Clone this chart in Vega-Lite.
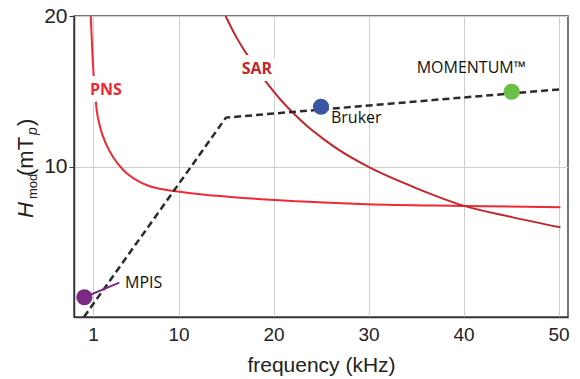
{
  "$schema": "https://vega.github.io/schema/vega-lite/v6.json",
  "width": 494,
  "height": 301,
  "autosize": {"type": "none"},
  "padding": {"left": 74, "top": 16, "right": 12, "bottom": 62},
  "background": "white",
  "config": {
    "view": {"stroke": "#4a4a4a", "strokeWidth": 1.5},
    "font": "Liberation Sans"
  },
  "datasets": {
    "curves": [
      {"series": "PNS", "f": 0.76, "H": 20},
      {"series": "PNS", "f": 0.97, "H": 17.1},
      {"series": "PNS", "f": 1.39, "H": 13.75},
      {"series": "PNS", "f": 1.74, "H": 12.64},
      {"series": "PNS", "f": 2.44, "H": 11.4},
      {"series": "PNS", "f": 3.14, "H": 10.6},
      {"series": "PNS", "f": 4.26, "H": 9.72},
      {"series": "PNS", "f": 6.0, "H": 8.95},
      {"series": "PNS", "f": 7.77, "H": 8.55},
      {"series": "PNS", "f": 9.53, "H": 8.37},
      {"series": "PNS", "f": 13.0, "H": 8.1},
      {"series": "PNS", "f": 16.5, "H": 7.93},
      {"series": "PNS", "f": 20.05, "H": 7.77},
      {"series": "PNS", "f": 25.3, "H": 7.6},
      {"series": "PNS", "f": 29.8, "H": 7.49},
      {"series": "PNS", "f": 40.0, "H": 7.38},
      {"series": "PNS", "f": 50.2, "H": 7.29},
      {"series": "SAR", "f": 14.95, "H": 20},
      {"series": "SAR", "f": 16.1, "H": 18.58},
      {"series": "SAR", "f": 17.2, "H": 17.45},
      {"series": "SAR", "f": 19.3, "H": 15.55},
      {"series": "SAR", "f": 20.7, "H": 14.47},
      {"series": "SAR", "f": 21.84, "H": 13.7},
      {"series": "SAR", "f": 23.5, "H": 12.7},
      {"series": "SAR", "f": 25.2, "H": 11.85},
      {"series": "SAR", "f": 27.0, "H": 11.05},
      {"series": "SAR", "f": 30.0, "H": 9.97},
      {"series": "SAR", "f": 35.07, "H": 8.55},
      {"series": "SAR", "f": 40.0, "H": 7.4},
      {"series": "SAR", "f": 45.2, "H": 6.62},
      {"series": "SAR", "f": 50.2, "H": 5.96}
    ],
    "scan": [
      {"series": "scan", "f": 0.05, "H": 0},
      {"series": "scan", "f": 15.0, "H": 13.25},
      {"series": "scan", "f": 50.2, "H": 15.13}
    ],
    "points": [
      {"name": "MPIS", "f": 0.09, "H": 1.31},
      {"name": "Bruker", "f": 25.0, "H": 13.97},
      {"name": "MOMENTUM", "f": 45.07, "H": 14.97}
    ],
    "leader": [
      {"name": "MPIS", "f": 0.09, "H": 1.31},
      {"name": "MPIS", "f": 3.77, "H": 2.28}
    ],
    "boldLabels": [
      {"label": "PNS", "f": 0.68, "H": 15.08},
      {"label": "SAR", "f": 16.65, "H": 16.48}
    ],
    "plainLabels": [
      {"label": "MPIS", "f": 4.37, "H": 2.24},
      {"label": "Bruker", "f": 26.05, "H": 13.2},
      {"label": "MOMENTUM™", "f": 35.07, "H": 16.52}
    ]
  },
  "layer": [
    {
      "data": {"name": "curves"},
      "mark": {"type": "line", "interpolate": "monotone", "strokeWidth": 2},
      "encoding": {
        "x": {
          "field": "f", "type": "quantitative",
          "scale": {"domain": [-1, 51], "nice": false, "zero": false},
          "axis": {
            "values": [1, 10, 20, 30, 40, 50],
            "title": "frequency (kHz)",
            "titleFont": "Liberation Sans", "titleFontSize": 21, "titleFontWeight": "normal",
            "titleColor": "#222", "titlePadding": 10,
            "labelFont": "Liberation Sans", "labelFontSize": 19, "labelColor": "#222",
            "labelPadding": 8, "labelFlush": false,
            "ticks": false, "domain": true, "domainColor": "#333", "domainWidth": 1.5,
            "grid": true, "gridColor": "#cfcfcf", "gridWidth": 1
          }
        },
        "y": {
          "field": "H", "type": "quantitative",
          "scale": {"domain": [0, 20], "nice": false},
          "axis": {
            "values": [10, 20],
            "title": null,
            "labelFont": "Liberation Sans", "labelFontSize": 21, "labelColor": "#222",
            "labelPadding": 2, "tickSize": 5, "tickColor": "#333",
            "domain": true, "domainColor": "#333", "domainWidth": 1.5,
            "grid": true, "gridColor": "#cfcfcf", "gridWidth": 1
          }
        },
        "color": {
          "field": "series", "type": "nominal", "legend": null,
          "scale": {"domain": ["PNS", "SAR", "MPIS", "Bruker", "MOMENTUM"], "range": ["#ee2a33", "#c1272d", "#7b2a84", "#3a55a4", "#6bbf46"]}
        },
        "detail": {"field": "series"}
      }
    },
    {
      "data": {"name": "scan"},
      "mark": {"type": "line", "color": "#2b2b2b", "strokeWidth": 2.5, "strokeDash": [7, 4]},
      "encoding": {
        "x": {"field": "f", "type": "quantitative"},
        "y": {"field": "H", "type": "quantitative"}
      }
    },
    {
      "data": {"name": "leader"},
      "mark": {"type": "line", "color": "#7b2a84", "strokeWidth": 2},
      "encoding": {
        "x": {"field": "f", "type": "quantitative"},
        "y": {"field": "H", "type": "quantitative"}
      }
    },
    {
      "data": {"name": "points"},
      "mark": {"type": "circle", "size": 260, "opacity": 1},
      "encoding": {
        "x": {"field": "f", "type": "quantitative"},
        "y": {"field": "H", "type": "quantitative"},
        "color": {
          "field": "name", "type": "nominal", "legend": null,
          "scale": {"domain": ["PNS", "SAR", "MPIS", "Bruker", "MOMENTUM"], "range": ["#ee2a33", "#c1272d", "#7b2a84", "#3a55a4", "#6bbf46"]}
        }
      }
    },
    {
      "data": {"name": "boldLabels"},
      "mark": {"type": "text", "align": "left", "baseline": "middle", "font": "Open Sans", "fontSize": 16, "fontWeight": "bold", "fill": "white", "stroke": "white", "strokeWidth": 14, "strokeJoin": "round"},
      "encoding": {
        "x": {"field": "f", "type": "quantitative"},
        "y": {"field": "H", "type": "quantitative"},
        "text": {"field": "label"}
      }
    },
    {
      "data": {"name": "boldLabels"},
      "mark": {"type": "text", "align": "left", "baseline": "middle", "font": "Open Sans", "fontSize": 16, "fontWeight": "bold"},
      "encoding": {
        "x": {"field": "f", "type": "quantitative"},
        "y": {"field": "H", "type": "quantitative"},
        "text": {"field": "label"},
        "color": {
          "field": "label", "type": "nominal", "legend": null,
          "scale": {"domain": ["PNS", "SAR", "MPIS", "Bruker", "MOMENTUM"], "range": ["#ee2a33", "#c1272d", "#7b2a84", "#3a55a4", "#6bbf46"]}
        }
      }
    },
    {
      "data": {"name": "plainLabels"},
      "mark": {"type": "text", "align": "left", "baseline": "middle", "font": "Open Sans", "fontSize": 16, "color": "#111"},
      "encoding": {
        "x": {"field": "f", "type": "quantitative"},
        "y": {"field": "H", "type": "quantitative"},
        "text": {"field": "label"}
      }
    },
    {
      "data": {"values": [{}]},
      "mark": {"type": "text", "text": "H", "angle": 270, "align": "left", "baseline": "alphabetic", "font": "Liberation Sans", "fontStyle": "italic", "fontSize": 22, "color": "#222"},
      "encoding": {"x": {"datum": -5.3}, "y": {"datum": 6.58}}
    },
    {
      "data": {"values": [{}]},
      "mark": {"type": "text", "text": "mod", "angle": 270, "align": "left", "baseline": "alphabetic", "font": "Liberation Sans", "fontSize": 13, "color": "#222", "dx": 19, "dy": 4},
      "encoding": {"x": {"datum": -5.3}, "y": {"datum": 6.58}}
    },
    {
      "data": {"values": [{}]},
      "mark": {"type": "text", "text": "(mT", "angle": 270, "align": "left", "baseline": "alphabetic", "font": "Liberation Sans", "fontSize": 22, "color": "#222", "dx": 42},
      "encoding": {"x": {"datum": -5.3}, "y": {"datum": 6.58}}
    },
    {
      "data": {"values": [{}]},
      "mark": {"type": "text", "text": "p", "angle": 270, "align": "left", "baseline": "alphabetic", "font": "Liberation Sans", "fontStyle": "italic", "fontSize": 14, "color": "#222", "dx": 83, "dy": 4},
      "encoding": {"x": {"datum": -5.3}, "y": {"datum": 6.58}}
    },
    {
      "data": {"values": [{}]},
      "mark": {"type": "text", "text": ")", "angle": 270, "align": "left", "baseline": "alphabetic", "font": "Liberation Sans", "fontSize": 22, "color": "#222", "dx": 92},
      "encoding": {"x": {"datum": -5.3}, "y": {"datum": 6.58}}
    }
  ]
}
